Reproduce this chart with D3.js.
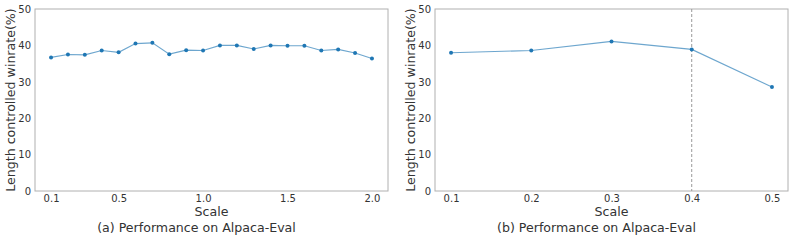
<!DOCTYPE html>
<html><head><meta charset="utf-8">
<script src="https://cdn.jsdelivr.net/npm/d3@7"></script>
<style>body{margin:0;background:#fff}svg{display:block;font-family:"DejaVu Sans",sans-serif}</style>
</head><body><svg id="c" width="793" height="242"></svg>
<script>
const scalesA = ["0.1","0.2","0.3","0.4","0.5","0.6","0.7","0.8","0.9","1.0","1.1","1.2","1.3","1.4","1.5","1.6","1.7","1.8","1.9","2.0"];
const valuesA = [36.7,37.5,37.4,38.6,38.1,40.5,40.7,37.6,38.7,38.6,40.0,40.0,39.0,40.0,39.9,39.9,38.6,38.9,37.9,36.4];
const ticksA = ["0.1","0.5","1.0","1.5","2.0"];
const scalesB = [0.1,0.2,0.3,0.4,0.5];
const valuesB = [38.0,38.6,41.1,38.9,28.6];
const ticksB = [0.1,0.2,0.3,0.4,0.5];
const markerB = 0.4;
const yTicks = [0,10,20,30,40,50];
const captions = ["(a) Performance on Alpaca-Eval","(b) Performance on Alpaca-Eval"];

const svg = d3.select("#c");
const txt = "#333";
const frame = "#b0b0b0";
const blue = "#1f77b4";

function panel(ox, x, pts, xTickVals, xTickFmt, caption, vline){
  const L = ox+35, R = ox+388, T = 9, B = 191;
  const y = d3.scaleLinear().domain([0,50]).range([B,T]);
  const g = svg.append("g");
  g.append("rect").attr("x",L).attr("y",T).attr("width",R-L).attr("height",B-T)
    .attr("fill","none").attr("stroke",frame).attr("stroke-width",1);
  const ya = g.append("g").attr("transform",`translate(${L},0)`)
    .call(d3.axisLeft(y).tickValues(yTicks).tickSize(0).tickPadding(4));
  ya.select(".domain").remove();
  ya.selectAll("text").attr("fill",txt).style("font-size","10px").style("font-family","DejaVu Sans");
  const xa = g.append("g").attr("transform",`translate(0,${B})`)
    .call(d3.axisBottom(x).tickValues(xTickVals).tickFormat(xTickFmt).tickSize(0).tickPadding(4));
  xa.select(".domain").remove();
  xa.selectAll("text").attr("fill",txt).style("font-size","10px").style("font-family","DejaVu Sans");
  if (vline!==undefined){
    g.append("line").attr("x1",x(vline)).attr("x2",x(vline)).attr("y1",T).attr("y2",B)
      .attr("stroke","#999").attr("stroke-width",1).attr("stroke-dasharray","3,2");
  }
  const line = d3.line().x(d=>x(d[0])).y(d=>y(d[1]));
  g.append("path").datum(pts).attr("d",line).attr("fill","none")
    .attr("stroke",blue).attr("stroke-opacity",0.65).attr("stroke-width",1.1);
  g.selectAll("circle").data(pts).join("circle")
    .attr("cx",d=>x(d[0])).attr("cy",d=>y(d[1])).attr("r",2).attr("fill",blue);
  g.append("text").attr("x",(L+R)/2).attr("y",215.7).attr("text-anchor","middle")
    .attr("fill",txt).style("font-size","12.6px").text("Scale");
  g.append("text").attr("transform",`translate(${ox+14.5},${(T+B)/2}) rotate(-90)`)
    .attr("text-anchor","middle").attr("fill",txt).style("font-size","12.6px")
    .text("Length controlled winrate(%)");
  g.append("text").attr("x",ox+196.5).attr("y",232.3).attr("text-anchor","middle")
    .attr("fill",txt).style("font-size","12.6px").text(caption);
}

const xA = d3.scaleLinear().domain([-0.95, scalesA.length-1+0.95]).range([35,388]);
const ptsA = valuesA.map((v,i)=>[i,v]);
panel(0, xA, ptsA, ticksA.map(t=>scalesA.indexOf(t)), i=>scalesA[i], captions[0]);

const xB = d3.scaleLinear().domain([0.08,0.52]).range([435,788]);
const ptsB = valuesB.map((v,i)=>[scalesB[i],v]);
panel(400, xB, ptsB, ticksB, d3.format(".1f"), captions[1], markerB);
</script></body></html>
